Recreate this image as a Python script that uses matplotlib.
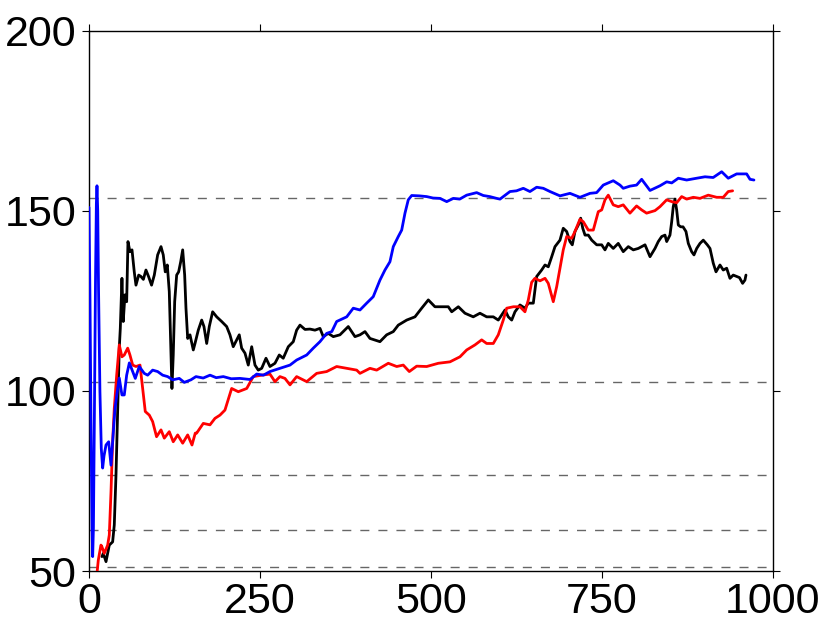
import matplotlib
matplotlib.use("Agg")
import matplotlib.pyplot as plt

# blue curve
blue_x = [0, 1.5, 3, 4.5, 5.4, 6.5, 8, 9.5, 10.8, 11.7, 12.8, 14, 16, 18, 20, 22, 24.9, 28.8, 32.2, 34.6,
          38, 42, 44.3, 48.2, 51.6, 55.1, 59, 63.9, 67.7, 73.5, 80.8, 85.8, 93.1, 100.4, 107.7, 115, 122.4,
          132, 139.3, 149, 156.4, 167, 177, 186, 196.4, 208, 220.8, 235.4, 245.2, 255, 264.6, 279.2, 293.9,
          303.6, 318.3, 327.9, 337.7, 347.5, 355, 362.1, 376.8, 386.4, 396.2, 406, 415.6, 425.4, 432.7, 440,
          444.9, 452.2, 457.2, 462, 466.8, 471.8, 483, 493.7, 503, 513.2, 523, 532.7, 542, 552.2, 566.8,
          576.5, 586, 596, 600.9, 615.5, 625, 635, 644.7, 654.5, 664.2, 674, 688.6, 703.2, 717.8, 732.5,
          742.2, 751.9, 766.5, 776.3, 781.1, 790.9, 800.6, 808, 820.2, 834.8, 844.6, 852, 861.6, 873.8,
          888.5, 900.6, 912.6, 925, 934.6, 946.9, 961.5, 966.4, 972.2]
blue_y = [151, 125, 90, 62, 54, 62, 95, 130, 152, 157, 150, 128, 100, 84, 78.6, 82, 85, 85.9, 79.4, 85.9,
          95, 100.8, 103.6, 98.9, 98.9, 104.4, 107.8, 105.4, 103.5, 106.8, 104.9, 104.4, 105.8, 105.4, 104.4,
          104, 103.1, 103.5, 102.4, 103.1, 104, 103.6, 104.4, 103.7, 104, 103.4, 103.5, 103.2, 104.7, 104.4,
          105.4, 106.3, 107.2, 108.6, 110, 111.9, 113.7, 116, 116.5, 119.3, 120.6, 123, 122.5, 124.4, 126.2,
          130.8, 133.6, 135.9, 140.1, 142.9, 144.7, 149.4, 153.1, 154.3, 154.2, 154, 153.6, 153.5, 152.6,
          153.5, 153.3, 154.4, 155.1, 154.3, 154, 153.5, 153.3, 155.4, 155.6, 156.3, 155.4, 156.6, 156.3,
          155.4, 154.2, 154.9, 153.8, 154.9, 155.1, 157.2, 158.4, 157.2, 156.3, 156.9, 157.2, 158.8, 155.7,
          157, 158.1, 157.8, 159.1, 158.6, 159.1, 159.5, 159.3, 160.9, 159.1, 160.3, 160.3, 158.8, 158.6]

# red curve
red_x = [10, 13.6, 17.5, 18.6, 22.4, 27.3, 29.7, 32.2, 34.6, 37, 40.5, 44.3, 48.2, 51.6, 56.6, 59.9, 63.9,
         68.7, 74.6, 78.5, 82.3, 88.2, 93.1, 98.8, 105.3, 110.1, 117.4, 123.2, 129.7, 137, 144.3, 150.6,
         155.4, 157.4, 167.1, 176.9, 184.2, 191.5, 198.8, 208.6, 218.3, 230.6, 240.2, 252.5, 264.6, 271.9,
         279.2, 286.5, 293.9, 303.6, 318.3, 332.9, 347.5, 362.1, 376.8, 391.4, 396.2, 410.8, 420.6, 437.6,
         449.9, 459.5, 468.3, 479.1, 493.7, 510.7, 527.8, 542.4, 552.2, 564.3, 574.1, 581.4, 591.1, 598.4,
         605.7, 610.7, 620.5, 630.1, 637.4, 642.3, 647.2, 652, 659.4, 666.7, 671.5, 678.8, 683.8, 688.6,
         693.4, 698.4, 705.7, 710.5, 717.8, 722.7, 730, 737.3, 744.6, 749.6, 754.4, 759.2, 766.5, 773.8,
         781.1, 790.9, 800.6, 808, 815.2, 827.5, 834.8, 844.6, 851.9, 859.2, 866.5, 873.8, 883.5, 893.3,
         905.4, 917.7, 927.3, 934.6, 941]
red_y = [46, 53, 57.2, 56.9, 54.9, 57.2, 60, 72, 85.9, 95.2, 104.4, 112.8, 109.5, 110, 111.9, 110, 107.2,
         106.8, 107.2, 100.7, 94.3, 93.3, 91.5, 87.3, 89.2, 86.9, 88.7, 85.9, 87.8, 85.5, 87.8, 85, 88.3,
         88.3, 91, 90.6, 92.4, 93.3, 94.7, 100.7, 99.8, 100.7, 104, 104.4, 104.7, 102.6, 104, 103.5, 101.7,
         104, 102.6, 104.9, 105.4, 106.8, 106.3, 105.8, 104.9, 106.3, 105.8, 107.7, 106.8, 107.2, 105.4,
         106.9, 106.8, 107.7, 108.1, 109.5, 111.4, 112.8, 114.2, 113.2, 113.2, 115.6, 119.7, 123, 123.4,
         123.4, 122, 125.3, 130.2, 131.3, 130.6, 131.3, 129.9, 124.8, 129, 134.1, 139.2, 142.9, 142.4, 144.3,
         147.7, 147, 144.7, 144.7, 149.8, 150.3, 153.1, 154.4, 151.7, 151.2, 151.7, 149.4, 151.4, 150.3,
         149.4, 150.1, 151.2, 153.1, 152.6, 152.3, 154, 153.3, 153.8, 153.5, 154.4, 153.8, 153.8, 155.4,
         155.6]

# black curve
black_x = [19, 20.9, 24.9, 29.7, 34.6, 37, 39.5, 42, 44.3, 45.8, 48.2, 50.1, 52.6, 55.1, 57, 59.9, 62.9,
           66.2, 68.7, 72.7, 76, 79.5, 83.3, 87.1, 91.5, 95.5, 100.4, 105.3, 108.6, 111.5, 114.5, 117.4,
           119.4, 121.3, 123.2, 125.3, 128.2, 131.1, 134.1, 137, 139.9, 141.8, 144.3, 147.7, 152.5, 155,
           159.8, 164.8, 168.1, 172.1, 175.9, 180.8, 186.7, 194, 201.3, 206.1, 210.9, 215.9, 219.7, 223.2,
           228.1, 232.9, 237.9, 242.7, 247.5, 252.5, 258.8, 264.6, 271.9, 278.2, 284, 291.4, 298.7, 303.6,
           308.5, 315.8, 323, 330.4, 337.7, 342.5, 349.8, 357.2, 366.9, 379.1, 388.9, 396.2, 403.5, 410.8,
           425.4, 435.2, 444.9, 452.2, 464.5, 476.6, 486.4, 496.1, 505.8, 515.6, 525.3, 530.3, 540, 549.7,
           561.8, 571.6, 581.4, 591.1, 598.4, 608.2, 613, 618, 622.8, 630.1, 637.4, 642.3, 649.6, 654.5,
           661.8, 666.7, 671.5, 676.5, 681.3, 688.6, 693.4, 698.4, 703.2, 706.6, 710.5, 715.4, 718.9, 721.9,
           725.2, 730, 735, 742.3, 749.6, 754.4, 759.2, 766.5, 773.8, 781.1, 788.5, 795.8, 803.1, 812.9,
           820.2, 827.5, 832.3, 837.3, 842.1, 844.6, 849.4, 851.9, 854.2, 856.7, 859.2, 861.6, 865.1, 868.5,
           872.8, 876.2, 881.1, 884.5, 888.5, 893.3, 898.1, 904, 907.9, 912.7, 916.7, 922.5, 927.3, 932.3,
           937.1, 941.9, 946.9, 951, 955.6, 959, 960.5]
black_y = [54, 54.9, 52.6, 57.2, 58.1, 62.8, 76.7, 95.2, 111.9, 117.4, 131.3, 119.3, 126.7, 124.8, 141.5,
           138.7, 139.2, 133.1, 129.4, 132.2, 131.8, 131, 133.6, 131.8, 129.4, 132.2, 137.8, 140.1, 137.8,
           133.1, 135, 127.6, 113.7, 100.7, 110, 124.8, 132.2, 133.1, 135.9, 139.2, 132.2, 123, 114.6, 115.6,
           111.4, 113.2, 116.9, 119.7, 117.9, 113.2, 117.9, 122, 120.6, 119.3, 117.9, 115.6, 112.3, 114.2,
           115.6, 111.9, 110.5, 107.2, 112.3, 107.2, 105.8, 106.3, 109.1, 106.8, 107.7, 110, 109.1, 112.3,
           113.7, 116.9, 118.3, 117.1, 117.2, 116.9, 117.4, 115.1, 116, 115.1, 115.6, 117.9, 115.1, 115.6,
           116.5, 114.6, 113.7, 115.6, 116.5, 118.3, 119.7, 120.6, 123, 125.3, 123.4, 123.4, 123.4, 122,
           123.4, 121.6, 120.6, 121.6, 120.6, 120.6, 119.7, 122.5, 120.6, 119.7, 122, 123.9, 123, 124.4,
           124.4, 131.8, 133.6, 135, 134.5, 137.3, 140.1, 141.9, 145.2, 144.3, 141.5, 140.6, 144.3, 146.1,
           148, 145.2, 143.3, 143.3, 141.9, 140.6, 140.6, 139.2, 141, 139.6, 141, 138.7, 140.1, 139.2, 139.6,
           140.6, 137.3, 139.6, 141.5, 142.9, 143.3, 141.5, 143.3, 147, 151.2, 153.3, 150.3, 146.1, 145.6,
           145.6, 144.3, 141, 138.7, 137.8, 139.6, 141, 141.9, 140.6, 139.6, 135.5, 133.1, 135, 133.6, 134.1,
           131.3, 132.2, 131.8, 131.5, 129.9, 130.8, 132.2]

# reference levels (dashed)
ref_levels = [153.6, 102.4, 76.8, 61.44, 51.2]

x_ticks = [0, 250, 500, 750, 1000]
y_ticks = [50, 100, 150, 200]


def main():
    plt.rcParams["font.family"] = ["Liberation Sans", "DejaVu Sans"]

    fig = plt.figure(figsize=(8.3, 6.27), dpi=100)
    ax = fig.add_axes([0.1072, 0.0893, 0.8241, 0.8613])

    for lvl in ref_levels:
        ax.axhline(lvl, color="#666666", lw=1.0, dashes=(6.5, 6.5), zorder=1)

    line_kw = dict(lw=2.0, solid_joinstyle="round", solid_capstyle="round")
    ax.plot(black_x, black_y, color="black", zorder=2, **line_kw)
    ax.plot(red_x, red_y, color="#ff0000", zorder=3, **line_kw)
    ax.plot(blue_x, blue_y, color="#0000ff", zorder=4, **line_kw)

    ax.set_xlim(0, 1000)
    ax.set_ylim(50, 200)
    ax.set_xticks(x_ticks)
    ax.set_yticks(y_ticks)

    ax.tick_params(which="both", direction="out", length=5, width=0.8,
                   top=True, right=True, labelsize=31, pad=3)
    ax.tick_params(axis="y", pad=4)
    for sp in ax.spines.values():
        sp.set_linewidth(1.0)

    fig.savefig("out.png", dpi=100)
    plt.close(fig)


if __name__ == "__main__":
    main()
